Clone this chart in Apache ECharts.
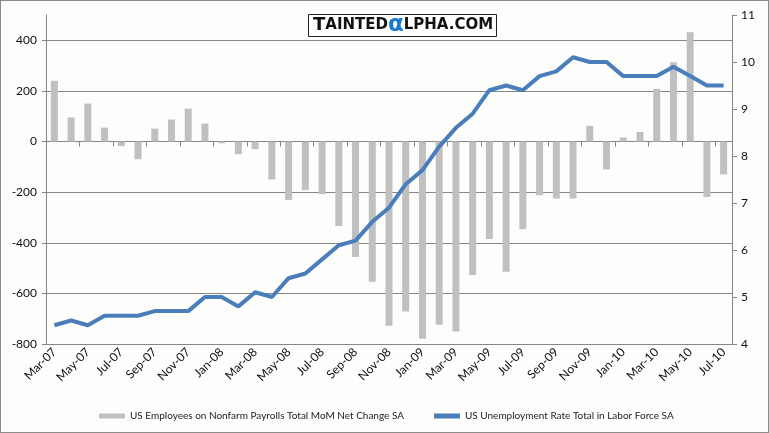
<!DOCTYPE html>
<html><head><meta charset="utf-8">
<script src="https://cdn.jsdelivr.net/npm/echarts@6/dist/echarts.min.js"></script>
<style>html,body{margin:0;padding:0;background:#fff}#c{width:769px;height:433px;box-sizing:border-box;border:1px solid #8a8a8a;background:#fdfefc}</style>
</head><body><div id="c"></div>
<script>
const months = ['Mar-07','Apr-07','May-07','Jun-07','Jul-07','Aug-07','Sep-07','Oct-07','Nov-07','Dec-07',
 'Jan-08','Feb-08','Mar-08','Apr-08','May-08','Jun-08','Jul-08','Aug-08','Sep-08','Oct-08','Nov-08','Dec-08',
 'Jan-09','Feb-09','Mar-09','Apr-09','May-09','Jun-09','Jul-09','Aug-09','Sep-09','Oct-09','Nov-09','Dec-09',
 'Jan-10','Feb-10','Mar-10','Apr-10','May-10','Jun-10','Jul-10'];
const payrolls = [240,95,150,55,-18,-70,51,87,130,71,
 -7,-50,-30,-150,-231,-192,-208,-334,-456,-554,-728,-672,
 -779,-724,-751,-527,-385,-515,-346,-212,-225,-225,62,-110,
 16,38,208,313,432,-219,-130];
const unemployment = [4.4,4.5,4.4,4.6,4.6,4.6,4.7,4.7,4.7,5.0,
 5.0,4.8,5.1,5.0,5.4,5.5,5.8,6.1,6.2,6.6,6.9,7.4,
 7.7,8.2,8.6,8.9,9.4,9.5,9.4,9.7,9.8,10.1,10.0,10.0,
 9.7,9.7,9.7,9.9,9.7,9.5,9.5];
const seriesNames = ['US Employees on Nonfarm Payrolls Total MoM Net Change SA','US Unemployment Rate Total in Labor Force SA'];

const chart = echarts.init(document.getElementById('c'));
const grey = '#868686';
const font = 'Lato, "Open Sans", sans-serif';
chart.setOption({
  animation: false,
  title: {
    text: '{b|T}{s|AINTED}{a|α}{s|LPHA.COM}',
    left: 307, top: 15,
    borderColor: '#222', borderWidth: 1, backgroundColor: '#fff',
    padding: [0, 4, 0, 5],
    textStyle: {
      rich: {
        b: {fontFamily: '"DejaVu Sans"', fontWeight: 'bold', fontSize: 18, color: '#111', lineHeight: 19},
        s: {fontFamily: '"DejaVu Sans"', fontWeight: 'bold', fontSize: 15, color: '#111', lineHeight: 19},
        a: {fontFamily: '"DejaVu Sans"', fontWeight: 'bold', fontSize: 23, color: '#1a7ad0', lineHeight: 19}
      }
    }
  },
  legend: {
    left: 93, top: 405,
    itemWidth: 26, itemHeight: 5, itemGap: 30,
    textStyle: {fontFamily: font, fontSize: 10, color: '#222'},
    data: [{name: seriesNames[0], icon: 'rect'}, {name: seriesNames[1], icon: 'rect'}]
  },
  grid: {left: 45, right: 36, top: 14, bottom: 88},
  xAxis: [{
    type: 'category', data: months, boundaryGap: true,
    axisLine: {show: false, onZero: false},
    axisTick: {show: false},
    axisLabel: {interval: 1, rotate: 45, margin: 6, fontFamily: font, fontSize: 12, color: '#111'}
  }, {
    type: 'category', data: months, boundaryGap: true, position: 'top',
    axisLine: {show: true, onZero: true, onZeroAxisIndex: 0, lineStyle: {color: grey, width: 1}},
    axisTick: {show: true, inside: true, interval: 1, length: 5, lineStyle: {color: grey}},
    axisLabel: {show: false}
  }],
  yAxis: [{
    type: 'value', min: -800, max: 500, interval: 200, position: 'left',
    axisLine: {show: true, lineStyle: {color: grey}},
    axisTick: {show: true, length: 4, lineStyle: {color: grey}},
    axisLabel: {showMaxLabel: false, margin: 9, fontFamily: font, fontSize: 12, color: '#111'},
    splitLine: {show: true, showMaxLine: false, lineStyle: {color: grey, width: 1}}
  }, {
    type: 'value', min: 4, max: 11, interval: 1, position: 'right',
    axisLine: {show: true, lineStyle: {color: grey}},
    axisTick: {show: true, length: 5, lineStyle: {color: grey}},
    axisLabel: {margin: 9, fontFamily: font, fontSize: 12, color: '#111'},
    splitLine: {show: false}
  }],
  series: [{
    name: seriesNames[0], type: 'bar', data: payrolls, xAxisIndex: 0, yAxisIndex: 0,
    barWidth: 7, itemStyle: {color: '#c0c0c0'}
  }, {
    name: seriesNames[1], type: 'line', data: unemployment, xAxisIndex: 0, yAxisIndex: 1,
    symbol: 'none', lineStyle: {color: '#4a7ebb', width: 4}, itemStyle: {color: '#4a7ebb'}, z: 5
  }]
});
</script></body></html>
